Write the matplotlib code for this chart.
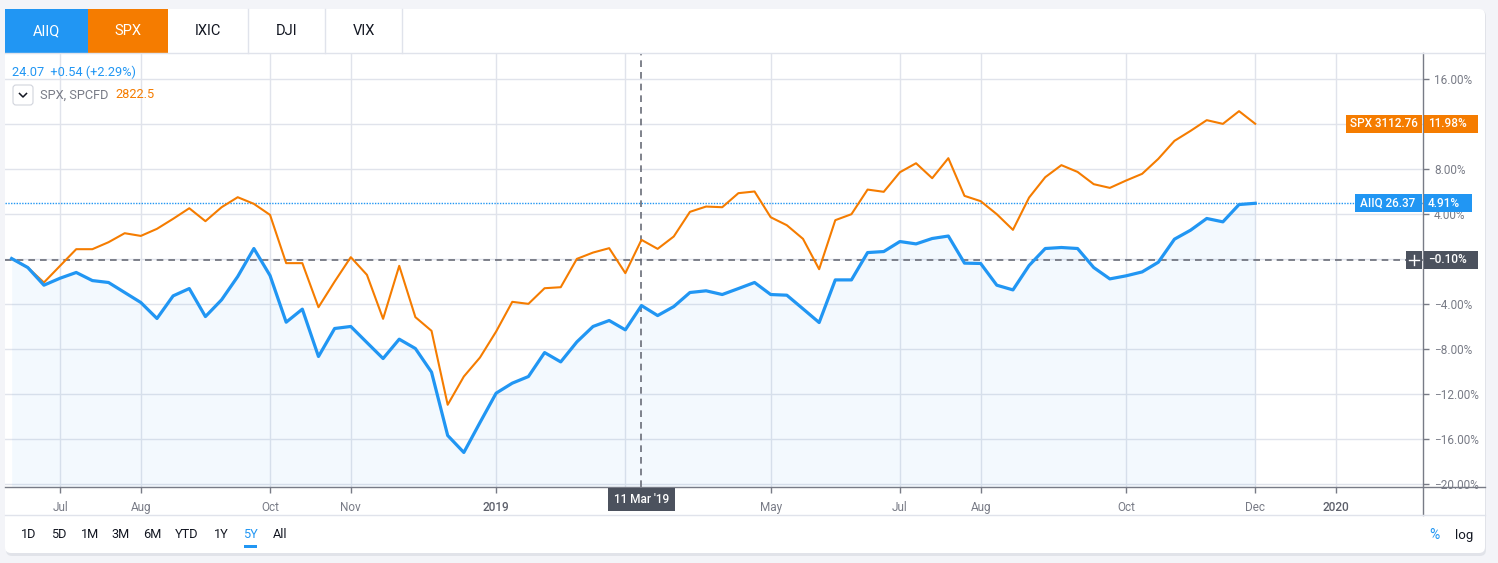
import matplotlib.pyplot as plt
from matplotlib.patches import Rectangle, FancyBboxPatch
from matplotlib.lines import Line2D
from matplotlib.transforms import IdentityTransform

plt.rcParams['font.family'] = ['Roboto', 'DejaVu Sans']

W, H = 1498, 563

# weekly % change since start (AIIQ vs SPX)
aiiq = [0.00, -0.80, -2.37, -1.75, -1.24, -1.96, -2.13, -3.02, -3.91, -5.33,
        -3.32, -2.67, -5.16, -3.67, -1.60, 0.89, -1.51, -5.66, -4.50, -8.71,
        -6.22, -6.04, -7.47, -8.89, -7.17, -8.00, -10.10, -15.73, -17.24, -14.58,
        -11.97, -11.08, -10.49, -8.36, -9.19, -7.41, -6.04, -5.51, -6.34, -4.18,
        -5.07, -4.27, -3.02, -2.87, -3.20, -2.67, -2.13, -3.20, -3.26, -4.47,
        -5.69, -1.90, -1.90, 0.53, 0.62, 1.51, 1.30, 1.78, 2.00, -0.41,
        -0.44, -2.37, -2.79, -0.62, 0.89, 0.98, 0.89, -0.80, -1.81, -1.54,
        -1.19, -0.33, 1.72, 2.52, 3.56, 3.26, 4.80, 4.91]
spx = [0.00, -0.80, -2.13, -0.65, 0.83, 0.83, 1.45, 2.25, 2.01, 2.64,
       3.53, 4.47, 3.32, 4.56, 5.45, 4.86, 3.88, -0.41, -0.41, -4.33,
       -2.05, 0.12, -1.45, -5.36, -0.65, -5.21, -6.43, -13.00, -10.49, -8.80,
       -6.49, -3.85, -4.03, -2.64, -2.55, -0.03, 0.53, 0.92, -1.30, 1.66,
       0.86, 1.96, 4.15, 4.62, 4.56, 5.81, 5.96, 3.67, 2.96, 1.75,
       -0.95, 3.41, 3.94, 6.13, 5.93, 7.67, 8.47, 7.14, 8.92, 5.57,
       5.10, 3.94, 2.55, 5.42, 7.23, 8.30, 7.70, 6.61, 6.28, 6.93,
       7.53, 8.86, 10.46, 11.35, 12.30, 11.97, 13.10, 11.98]
weeks = list(range(len(aiiq)))

tick_pos = [3, 8, 16, 21, 30, 38, 47, 55, 60, 69, 77, 82]
tick_labels = ['Jul', 'Aug', 'Oct', 'Nov', '2019', '', 'May', 'Jul', 'Aug', 'Oct', 'Dec', '2020']
y_ticks = [16, 12, 8, 4, 0, -4, -8, -12, -16, -20]
y_hidden = [12, 0]  # covered by the price labels

cross_week = 39
cross_label = "11 Mar '19"
cross_value = -0.10
aiiq_label = 'AIIQ 26.37'
spx_label = 'SPX 3112.76'
tabs = ['AIIQ', 'SPX', 'IXIC', 'DJI', 'VIX']
ranges = ['1D', '5D', '1M', '3M', '6M', 'YTD', '1Y', '5Y', 'All']

BLUE = '#2196f3'
ORANGE = '#f57c00'
GRID = '#e0e3eb'
AXIS = '#787b86'
DARK = '#4c525e'

fig = plt.figure(figsize=(W / 100, H / 100), dpi=100)
fig.patch.set_facecolor('#f3f4f8')


def rect(x0, y0, x1, y1, color, z=5, **kw):
    # pixel box, measured from the top-left corner
    fig.add_artist(Rectangle((x0, H - y1), x1 - x0, y1 - y0, transform=IdentityTransform(),
                             facecolor=color, edgecolor='none', zorder=z, **kw))


def hline(x0, x1, y, color, z=5, lw=1, **kw):
    fig.add_artist(Line2D([x0, x1], [H - y, H - y], transform=IdentityTransform(),
                          color=color, lw=lw, zorder=z, **kw))


def vline(x, y0, y1, color, z=5, lw=1, **kw):
    fig.add_artist(Line2D([x, x], [H - y0, H - y1], transform=IdentityTransform(),
                          color=color, lw=lw, zorder=z, **kw))


def txt(x, y, s, **kw):
    kw.setdefault('va', 'center')
    kw.setdefault('zorder', 6)
    fig.text(x / W, 1 - y / H, s, **kw)


# card with a soft shadow
fig.add_artist(FancyBboxPatch((6, H - 556), 1480, 546, boxstyle='round,pad=0,rounding_size=6',
                              transform=IdentityTransform(), facecolor='#d6d9e0', edgecolor='none',
                              alpha=0.6, zorder=-3))
fig.add_artist(FancyBboxPatch((5, H - 553), 1480, 544, boxstyle='round,pad=0,rounding_size=6',
                              transform=IdentityTransform(), facecolor='white', edgecolor='none',
                              zorder=-2))

ax = fig.add_axes([5 / W, 1 - 487 / H, (1423 - 5) / W, (487 - 53) / H])
ax.set_facecolor('none')
ax.set_xlim(-0.41, 87.39)
ax.set_ylim(-20.31, 18.27)

ax.fill_between(weeks, aiiq, -20.31, color=BLUE, alpha=0.05, lw=0, zorder=1)
ax.plot(weeks, spx, color=ORANGE, lw=1.5, zorder=3)
ax.plot(weeks, aiiq, color=BLUE, lw=2.3, zorder=4, solid_joinstyle='round')

ax.axhline(aiiq[-1], color=BLUE, lw=1, ls=(0, (1, 1)), zorder=2)
ax.axhline(cross_value, color='#6a6d78', lw=1.2, ls=(0, (4, 3)), zorder=2)
ax.axvline(cross_week, color='#6a6d78', lw=1.2, ls=(0, (4, 3)), zorder=2)

ax.set_xticks(tick_pos)
ax.set_xticklabels(tick_labels)
ax.set_yticks(y_ticks)
ax.set_yticklabels(['' if v in y_hidden else f'{v:.2f}%'.replace('-', '\u2212') for v in y_ticks])
ax.yaxis.tick_right()
ax.grid(True, color=GRID, lw=1, zorder=0)
ax.set_axisbelow(True)
for s in ax.spines.values():
    s.set_visible(False)
ax.tick_params(axis='x', length=4, width=1, color=AXIS, labelcolor=AXIS, labelsize=8.5, pad=6)
ax.tick_params(axis='y', length=4, width=1, color=AXIS, labelcolor=AXIS, labelsize=8.5, pad=4)
for lab in ax.get_xticklabels():
    if lab.get_text() in ('2019', '2020'):
        lab.set_color('#5d606b')
        lab.set_fontweight('medium')

# axis lines and frame lines
vline(1423, 53, 515, AXIS, z=4)
hline(5, 1485, 487, AXIS, z=4)
hline(5, 1485, 515, GRID, z=4)
hline(5, 1485, 53, GRID, z=4)


def ypix(v):
    return H - ax.transData.transform((0, v))[1]


# price labels on the right scale
y_spx = ypix(spx[-1])
rect(1346, y_spx - 9, 1422, y_spx + 9, ORANGE)
rect(1424, y_spx - 9, 1478, y_spx + 9, ORANGE)
txt(1384, y_spx, spx_label, color='white', fontsize=8.5, ha='center', fontweight='medium')
txt(1428, y_spx, f'{spx[-1]:.2f}%', color='white', fontsize=8.5, ha='left', fontweight='medium')

y_ai = ypix(aiiq[-1])
rect(1355, y_ai - 9, 1422, y_ai + 9, BLUE)
rect(1424, y_ai - 9, 1472, y_ai + 9, BLUE)
txt(1388, y_ai, aiiq_label, color='white', fontsize=8.5, ha='center', fontweight='medium')
txt(1428, y_ai, f'{aiiq[-1]:.2f}%', color='white', fontsize=8.5, ha='left', fontweight='medium')

y_cr = ypix(cross_value)
rect(1406, y_cr - 9, 1422, y_cr + 9, DARK)
rect(1424, y_cr - 9, 1478, y_cr + 9, DARK)
hline(1409, 1419, y_cr, 'white', z=6)
vline(1414, y_cr - 5, y_cr + 5, 'white', z=6)
txt(1428, y_cr, f'{cross_value:.2f}%'.replace('-', '\u2212'), color='white', fontsize=8.5,
    ha='left', fontweight='medium')

x_cr = ax.transData.transform((cross_week, 0))[0]
rect(x_cr - 33, 488, x_cr + 34, 511, DARK)
txt(x_cr, 499.5, cross_label, color='white', fontsize=8.5, ha='center', fontweight='medium')

# symbol tabs
tab_edges = [5, 88, 168, 248, 325, 402]
tab_colors = [BLUE, ORANGE, None, None, None]
for i, name in enumerate(tabs):
    x0, x1 = tab_edges[i], tab_edges[i + 1]
    if tab_colors[i]:
        rect(x0, 9, x1, 53, tab_colors[i], z=3)
    else:
        vline(x1, 9, 53, GRID, z=3)
    txt((x0 + x1) / 2, 31, name, color='white' if tab_colors[i] else '#131722',
        fontsize=10.5, ha='center')

# legend lines in the top-left corner
txt(12, 72, '24.07  +0.54 (+2.29%)', color=BLUE, fontsize=9.2, ha='left')
fig.add_artist(FancyBboxPatch((13, H - 105), 20, 20, boxstyle='round,pad=0,rounding_size=3',
                              transform=IdentityTransform(), facecolor='white', edgecolor='#d1d4dc',
                              lw=0.8, zorder=5))
fig.add_artist(Line2D([19.5, 23, 26.5], [H - 93.5, H - 97, H - 93.5], transform=IdentityTransform(),
                      color='#131722', lw=1.1, zorder=6))
txt(40, 95, 'SPX, SPCFD', color='#787b86', fontsize=9.2, ha='left')
txt(115, 95, '2822.5', color=ORANGE, fontsize=9.2, ha='left')

# range buttons
range_x = [29, 59, 90, 121, 152, 187, 221, 250, 280]
for x, name in zip(range_x, ranges):
    txt(x, 535, name, color=BLUE if name == '5Y' else '#131722', fontsize=9.2, ha='center')
rect(244, 545, 257, 547.5, BLUE)
txt(1434, 535, '%', color=BLUE, fontsize=10, ha='center')
txt(1464, 535, 'log', color='#131722', fontsize=9.5, ha='center')

fig.savefig('out.png', dpi=100, facecolor=fig.get_facecolor())
